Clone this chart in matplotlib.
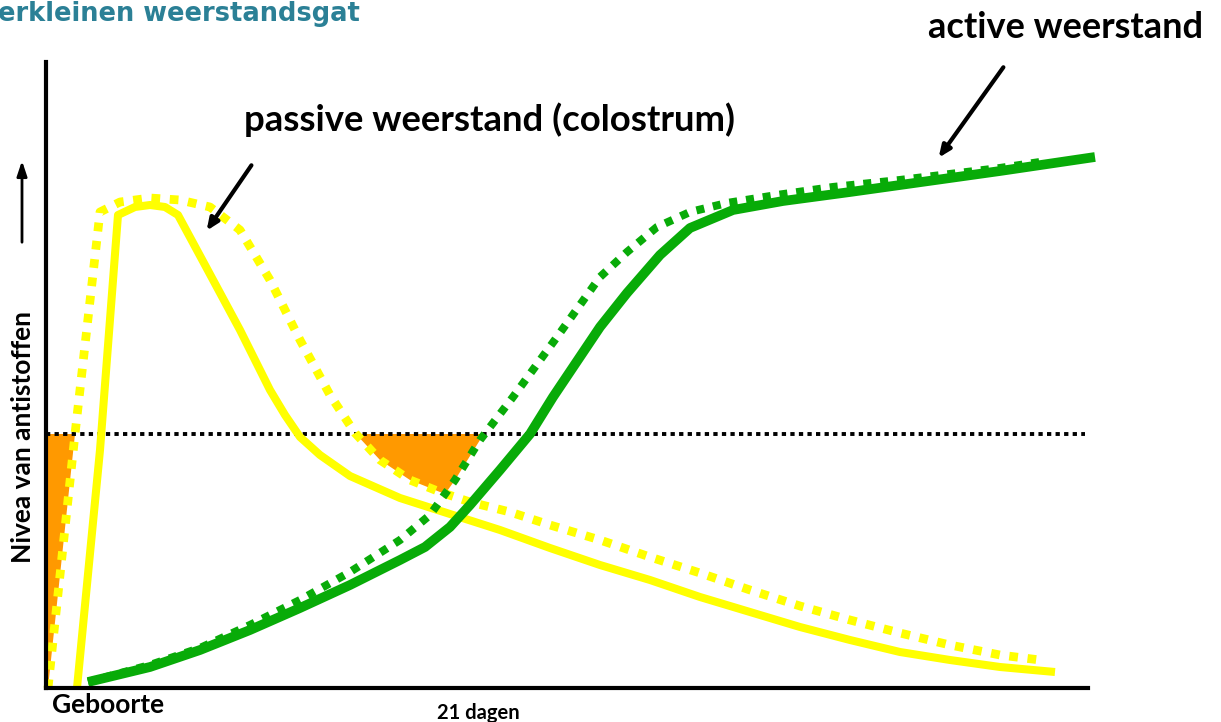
#Antibody levels after birth: passive (colostrum) vs active immunity
import numpy as np
import matplotlib.pyplot as plt

#Curves (x: position along time axis, y: screen height, 0 = top)
passive_x = [77, 100, 118, 135, 150, 165, 178, 205, 240, 270, 285, 300, 320, 350, 400, 450, 500, 550, 600, 650, 700, 750, 800, 850, 900, 950, 1000, 1055]
passive_y = [688, 450, 215, 207, 205, 207, 215, 265, 330, 390, 415, 437, 455, 476, 498, 514, 530, 548, 565, 580, 597, 612, 627, 640, 652, 660, 667, 672]

passive2_x = [48, 75, 100, 120, 150, 180, 210, 240, 270, 300, 330, 355, 380, 410, 440, 470, 510, 550, 600, 650, 700, 750, 800, 850, 900, 950, 1000, 1040]
passive2_y = [688, 434, 212, 202, 198, 200, 207, 230, 280, 340, 395, 433, 460, 480, 492, 502, 512, 525, 540, 557, 573, 590, 606, 620, 633, 645, 655, 660]

active_x = [88, 150, 200, 250, 300, 350, 400, 425, 450, 470, 500, 530, 553, 600, 627, 660, 690, 733, 783, 850, 900, 1000, 1095]
active_y = [682, 667, 650, 630, 608, 585, 560, 547, 527, 505, 470, 434, 397, 327, 293, 255, 228, 210, 201, 192, 185, 171, 157]

active2_x = [88, 150, 200, 250, 300, 350, 400, 430, 455, 480, 513, 557, 600, 627, 657, 690, 727, 777, 833, 900, 1000, 1040]
active2_y = [682, 665, 648, 625, 600, 572, 540, 515, 480, 440, 397, 337, 277, 252, 227, 212, 203, 195, 187, 180, 168, 162]

threshold = 434

yellow = '#ffff00'
green = '#08ab08'
orange = '#ff9900'

fig = plt.figure(figsize=(12.21, 7.22), dpi=100)
W, H = 1221, 722
x0, x1, y0, y1 = 46, 1088, 688, 62
ax = fig.add_axes([x0 / W, (H - y0) / H, (x1 - x0) / W, (y0 - y1) / H])
ax.set_xlim(x0, x1)
ax.set_ylim(y0, y1)
for s in ['top', 'right']:
    ax.spines[s].set_visible(False)
for s in ['left', 'bottom']:
    ax.spines[s].set_linewidth(3)
    ax.spines[s].set_zorder(6)
ax.set_xticks([])
ax.set_yticks([])

#orange "gap": below the threshold and above both dotted curves
xs = np.linspace(x0, 700, 3000)
low = np.minimum(np.interp(xs, passive2_x, passive2_y), np.interp(xs, active2_x, active2_y))
ax.fill_between(xs, threshold, low, where=low > threshold, color=orange, lw=0, zorder=1, interpolate=True)

ax.axhline(threshold, xmin=0, xmax=(1085 - x0) / (x1 - x0), color='black', lw=2.8,
           linestyle=(0, (1.1, 1.1)), dash_capstyle='butt', zorder=2)

ax.plot(passive_x, passive_y, color=yellow, lw=5.8, solid_capstyle='butt', solid_joinstyle='round',
        zorder=3, clip_on=False)
ax.plot(passive2_x, passive2_y, color=yellow, lw=6.3, linestyle=(0, (1.0, 1.1)),
        dash_capstyle='butt', zorder=3, clip_on=False)
ax.plot(active_x, active_y, color=green, lw=7, solid_capstyle='butt', solid_joinstyle='round',
        zorder=4, clip_on=False)
ax.plot(active2_x, active2_y, color=green, lw=5.8, linestyle=(0, (1.0, 1.1)),
        dash_capstyle='butt', zorder=4, clip_on=False)

font = 'Lato'
ax.text(-2, 14, 'erkleinen weerstandsgat', color='#2b8096', fontsize=18.5, fontweight='bold',
        family='DejaVu Sans', ha='left', va='center', clip_on=False)
ax.text(1066, 28, 'active weerstand', fontsize=26, fontweight='bold', family=font,
        ha='center', va='center', clip_on=False)
ax.text(489, 120, 'passive weerstand (colostrum)', fontsize=26.3, fontweight='bold', family=font,
        ha='center', va='center', clip_on=False)
ax.text(52, 705, 'Geboorte', fontsize=19, fontweight='bold', family=font,
        ha='left', va='center', clip_on=False)
ax.text(478, 713, '21 dagen', fontsize=14.5, fontweight='bold', family=font,
        ha='center', va='center', clip_on=False)
ax.text(23, 437, 'Nivea van antistoffen', fontsize=19, fontweight='bold', family=font,
        rotation=90, ha='center', va='center', clip_on=False)

arrow = dict(arrowstyle='-|>,head_length=0.7,head_width=0.3', color='black', lw=3)
ax.annotate('', xy=(205, 233), xytext=(253, 163), arrowprops=arrow, annotation_clip=False)
ax.annotate('', xy=(937, 160), xytext=(1005, 65), arrowprops=arrow, annotation_clip=False)
ax.annotate('', xy=(22, 158), xytext=(22, 245),
            arrowprops=dict(arrowstyle='-|>,head_length=0.9,head_width=0.3', color='black', lw=2),
            annotation_clip=False)

plt.savefig('out.png', dpi=100)
